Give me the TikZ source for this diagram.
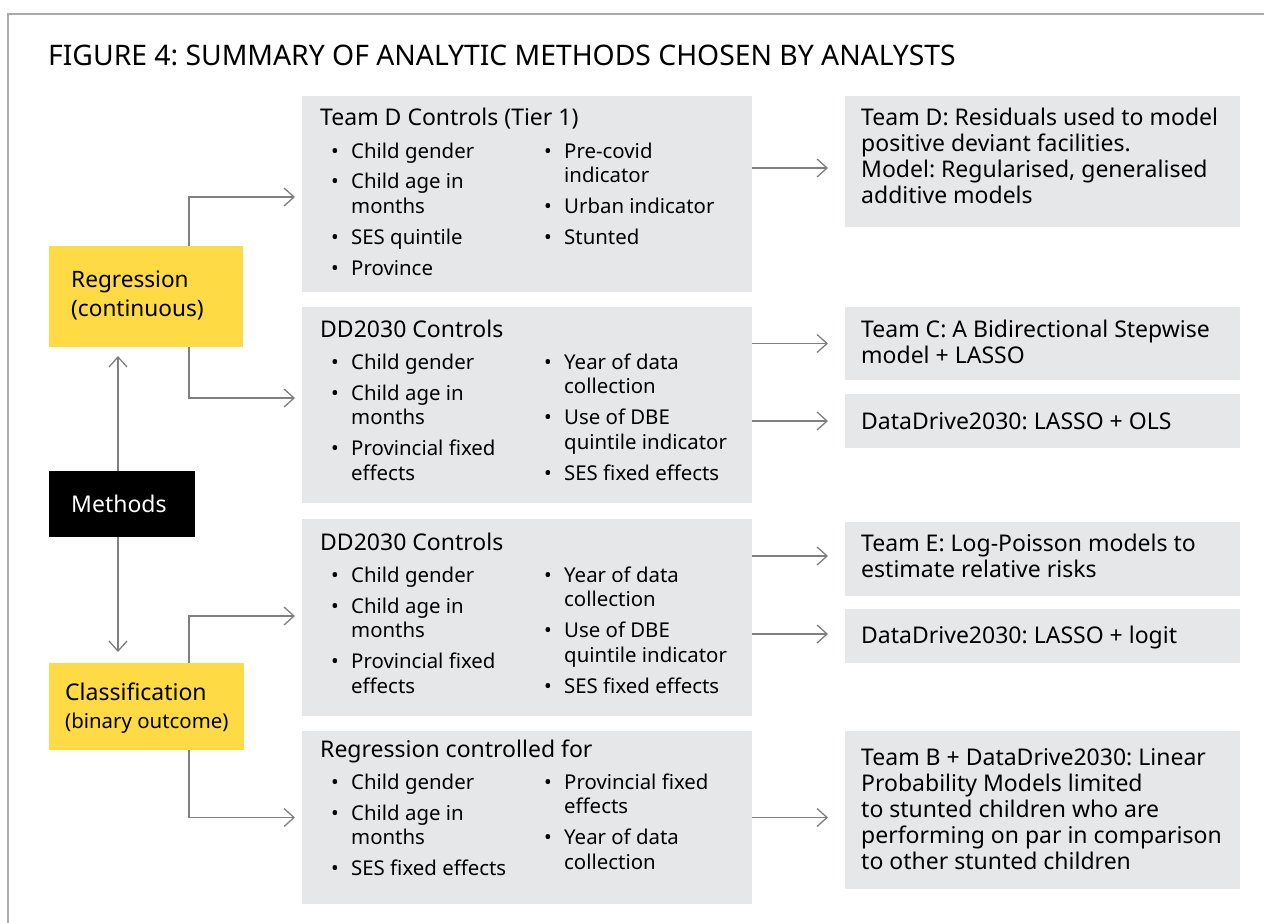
\documentclass[tikz,border=0pt]{standalone}
\usepackage{fontspec}
\setmainfont{Noto Sans}
\usetikzlibrary{arrows.meta,calc}
\definecolor{ylw}{RGB}{254,218,68}
\definecolor{gry}{RGB}{230,231,232}
\definecolor{lnc}{RGB}{128,128,128}
\definecolor{frm}{RGB}{170,170,170}
\newcommand{\bu}{\makebox[20pt][l]{•}}
\newcommand{\ml}[1]{\begin{tabular}[t]{@{}l@{}}#1\end{tabular}}
\frenchspacing
\begin{document}
\begin{tikzpicture}[x=1pt,y=-1pt,
  gbox/.style={fill=gry,inner sep=0pt,outer sep=0pt},
  ybox/.style={fill=ylw,inner sep=0pt,outer sep=0pt},
  kbox/.style={fill=black,inner sep=0pt,outer sep=0pt},
  txt/.style={anchor=base west,inner sep=0pt,font=\fontsize{23}{26}\selectfont},
  lst/.style={anchor=base west,inner sep=0pt,font=\fontsize{20.4}{24.5}\selectfont},
  arr/.style={draw=lnc,line width=1.3pt,-{Straight Barb[length=10pt,width=18pt]}},
  frame/.style={draw=frm,line width=2pt}]
\useasboundingbox (0,0) rectangle (1264,923);
\draw[frame] (1264,14) -- (8,14) -- (8,923);
\node[anchor=base west,inner sep=0pt,font=\fontsize{28.3}{34}\selectfont] (title) at (48,66) {FIGURE 4: SUMMARY OF ANALYTIC METHODS CHOSEN BY ANALYSTS};

% left column
\node[ybox,minimum width=194pt,minimum height=101pt] (reg) at (146,296.5) {};
\node[kbox,minimum width=146pt,minimum height=66pt] (meth) at (122,504) {};
\node[ybox,minimum width=195pt,minimum height=87pt] (cls) at (146.5,706.5) {};
\node[txt,font=\fontsize{22.6}{29.5}\selectfont] (regt) at (71,287) {\ml{Regression\\(continuous)}};
\node[txt,text=white] (metht) at (71,512) {Methods};
\node[txt] (clst) at (65,700) {Classification};
\node[txt,font=\fontsize{20.4}{22}\selectfont] (clst2) at (65,728) {(binary outcome)};

% middle boxes
\node[gbox,minimum width=450pt,minimum height=196pt] (b1) at (527,194) {};
\node[gbox,minimum width=450pt,minimum height=196pt] (b2) at (527,405) {};
\node[gbox,minimum width=450pt,minimum height=197pt] (b3) at (527,617.5) {};
\node[gbox,minimum width=450pt,minimum height=173pt] (b4) at (527,817.5) {};

\node[txt] (b1t) at (320,126) {Team D Controls (Tier 1)};
\node[lst] (b1a) at (331,158) {\begin{tabular}[t]{@{}l@{}l@{}}
\bu & Child gender\\[6.5pt]
\bu & Child age in\\ & months\\[6.5pt]
\bu & SES quintile\\[6.5pt]
\bu & Province\end{tabular}};
\node[lst] (b1b) at (544,158) {\begin{tabular}[t]{@{}l@{}l@{}}
\bu & Pre-covid\\ & indicator\\[6.5pt]
\bu & Urban indicator\\[6.5pt]
\bu & Stunted\end{tabular}};

\node[txt] (b2t) at (320,337) {DD2030 Controls};
\node[lst] (b2a) at (331,369) {\begin{tabular}[t]{@{}l@{}l@{}}
\bu & Child gender\\[6.5pt]
\bu & Child age in\\ & months\\[6.5pt]
\bu & Provincial fixed\\ & effects\end{tabular}};
\node[lst] (b2b) at (544,369) {\begin{tabular}[t]{@{}l@{}l@{}}
\bu & Year of data\\ & collection\\[6.5pt]
\bu & Use of DBE\\ & quintile indicator\\[6.5pt]
\bu & SES fixed effects\end{tabular}};

\node[txt] (b3t) at (320,550) {DD2030 Controls};
\node[lst] (b3a) at (331,582) {\begin{tabular}[t]{@{}l@{}l@{}}
\bu & Child gender\\[6.5pt]
\bu & Child age in\\ & months\\[6.5pt]
\bu & Provincial fixed\\ & effects\end{tabular}};
\node[lst] (b3b) at (544,582) {\begin{tabular}[t]{@{}l@{}l@{}}
\bu & Year of data\\ & collection\\[6.5pt]
\bu & Use of DBE\\ & quintile indicator\\[6.5pt]
\bu & SES fixed effects\end{tabular}};

\node[txt] (b4t) at (320,757) {Regression controlled for};
\node[lst] (b4a) at (331,789) {\begin{tabular}[t]{@{}l@{}l@{}}
\bu & Child gender\\[6.5pt]
\bu & Child age in\\ & months\\[6.5pt]
\bu & SES fixed effects\end{tabular}};
\node[lst] (b4b) at (544,789) {\begin{tabular}[t]{@{}l@{}l@{}}
\bu & Provincial fixed\\ & effects\\[6.5pt]
\bu & Year of data\\ & collection\end{tabular}};

% right boxes
\node[gbox,minimum width=395pt,minimum height=131pt] (r1) at (1042.5,161.5) {};
\node[gbox,minimum width=395pt,minimum height=73pt] (r2) at (1042.5,343.5) {};
\node[gbox,minimum width=395pt,minimum height=54pt] (r3) at (1042.5,421) {};
\node[gbox,minimum width=395pt,minimum height=74pt] (r4) at (1042.5,559) {};
\node[gbox,minimum width=395pt,minimum height=54pt] (r5) at (1042.5,636) {};
\node[gbox,minimum width=395pt,minimum height=158pt] (r6) at (1042.5,810) {};

\node[txt] (r1t) at (861,126) {\ml{Team D: Residuals used to model\\positive deviant facilities.\\Model: Regularised, generalised\\additive models}};
\node[txt] (r2t) at (861,337) {\ml{Team C: A Bidirectional Stepwise\\model + LASSO}};
\node[txt] (r3t) at (861,429) {DataDrive2030: LASSO + OLS};
\node[txt] (r4t) at (861,551) {\ml{Team E: Log-Poisson models to\\estimate relative risks}};
\node[txt] (r5t) at (861,643) {DataDrive2030: LASSO + logit};
\node[txt] (r6t) at (861,765) {\ml{Team B + DataDrive2030: Linear\\Probability Models limited\\to stunted children who are\\performing on par in comparison\\to other stunted children}};

% connectors
\draw[arr,shorten >=9pt] ([xshift=-4pt]meth.north) -- ([xshift=-4pt]meth.north |- reg.south);
\draw[arr,shorten >=11pt] ([xshift=-4pt]meth.south) -- ([xshift=-4pt]meth.south |- cls.north);
\draw[arr] ([xshift=43pt]reg.north) |- ($(b1.west)+(-7,3)$);
\draw[arr] ([xshift=43pt]reg.south) |- ($(b2.west)+(-7,-7)$);
\draw[arr] ([xshift=42.5pt]cls.north) |- ($(b3.west)+(-7,-1.5)$);
\draw[arr] ([xshift=42.5pt]cls.south) |- ($(b4.west)+(-7,0)$);

\draw[arr] ($(b1.east |- r1.west)+(0,6.5)$) -- ($(r1.west)+(-17,6.5)$);
\draw[arr,shorten >=17pt] (b2.east |- r2.west) -- (r2.west);
\draw[arr,shorten >=17pt] (b2.east |- r3.west) -- (r3.west);
\draw[arr,shorten >=17pt] ($(b3.east |- r4.west)+(0,-3)$) -- ($(r4.west)+(0,-3)$);
\draw[arr,shorten >=17pt] ($(b3.east |- r5.west)+(0,-2)$) -- ($(r5.west)+(0,-2)$);
\draw[arr,shorten >=17pt] (b4.east) -- (b4.east -| r6.west);
\end{tikzpicture}
\end{document}
